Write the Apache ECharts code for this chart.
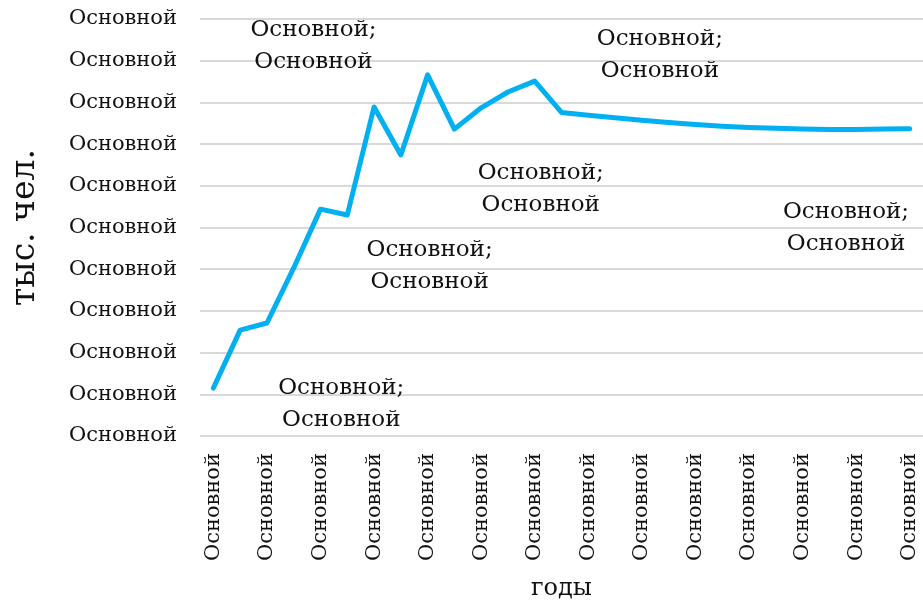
<!DOCTYPE html>
<html>
<head>
<meta charset="utf-8">
<script src="https://cdn.jsdelivr.net/npm/echarts@6/dist/echarts.min.js"></script>
<style>
  html, body { margin: 0; padding: 0; background: #fff; }
  #chart { width: 923px; height: 602px; }
</style>
</head>
<body>
<div id="chart"></div>
<script>
// categories along the x axis (only every other one is labelled)
const categories = [
  'Основной', 'Основной', 'Основной', 'Основной', 'Основной', 'Основной', 'Основной',
  'Основной', 'Основной', 'Основной', 'Основной', 'Основной', 'Основной', 'Основной',
  'Основной', 'Основной', 'Основной', 'Основной', 'Основной', 'Основной', 'Основной',
  'Основной', 'Основной', 'Основной', 'Основной', 'Основной', 'Основной'
];

// series values (in y-axis tick units)
const values = [
  1.15, 2.54, 2.71, 4.03, 5.44, 5.30, 7.89, 6.74, 8.66, 7.36,
  7.87, 8.25, 8.51, 7.76, 7.69, 7.63, 7.57, 7.52, 7.47, 7.43,
  7.40, 7.38, 7.36, 7.35, 7.35, 7.36, 7.37
];

// y-axis tick labels, bottom to top
const yTickLabels = [
  'Основной', 'Основной', 'Основной', 'Основной', 'Основной', 'Основной',
  'Основной', 'Основной', 'Основной', 'Основной', 'Основной'
];

// which points carry a data label, and its text
const labelIndex = [4, 5, 8, 12, 16, 24];
const labelText = 'Основной;\nОсновной';

// label offsets from their point (pixels), kept apart from the data
const labelOffset = {
  4: [-7, -163],
  5: [-6, 189],
  8: [2, 191],
  12: [6, 108],
  16: [18, -65],
  24: [-10, 99]
};

const serif = '"DejaVu Serif", "Liberation Serif", serif';

const seriesData = values.map((v, i) => {
  if (labelIndex.indexOf(i) < 0) return v;
  return {
    value: v,
    label: {
      show: true,
      formatter: labelText,
      position: 'inside',
      offset: labelOffset[i]
    }
  };
});

const dom = echarts.init(document.getElementById('chart'));

const option = {
  animation: false,
  textStyle: { fontFamily: serif },
  grid: {
    left: 200,
    right: 0,
    top: 19,
    bottom: 166,
    containLabel: false,
    outerBoundsMode: 'none'
  },
  xAxis: {
    type: 'category',
    data: categories,
    name: 'годы',
    nameLocation: 'middle',
    nameGap: 141,
    nameTextStyle: { fontFamily: serif, fontSize: 24, color: '#111' },
    axisLine: { show: false },
    axisTick: { show: false },
    axisLabel: {
      interval: 1,
      rotate: 90,
      margin: 17,
      fontFamily: serif,
      fontSize: 21,
      color: '#111'
    }
  },
  yAxis: {
    type: 'value',
    min: 0,
    max: 10,
    interval: 1,
    name: 'тыс. чел.',
    nameLocation: 'middle',
    nameGap: 158,
    nameRotate: 90,
    nameTextStyle: { fontFamily: serif, fontSize: 33, color: '#111' },
    axisLine: { show: false },
    axisTick: { show: false },
    axisLabel: {
      margin: 23,
      fontFamily: serif,
      fontSize: 21,
      color: '#111',
      formatter: (val) => yTickLabels[Math.round(val)]
    },
    splitLine: { lineStyle: { color: '#d9d9d9', width: 2 } }
  },
  series: [
    {
      type: 'line',
      data: seriesData,
      symbol: 'circle',
      symbolSize: 1,
      showSymbol: true,
      itemStyle: { color: 'rgba(0,0,0,0)' },
      lineStyle: { color: '#00B0F0', width: 5, cap: 'round', join: 'round' },
      label: {
        show: false,
        fontFamily: serif,
        fontSize: 23,
        lineHeight: 32,
        color: '#111',
        align: 'center',
        verticalAlign: 'middle'
      }
    }
  ]
};

dom.setOption(option);
</script>
</body>
</html>
